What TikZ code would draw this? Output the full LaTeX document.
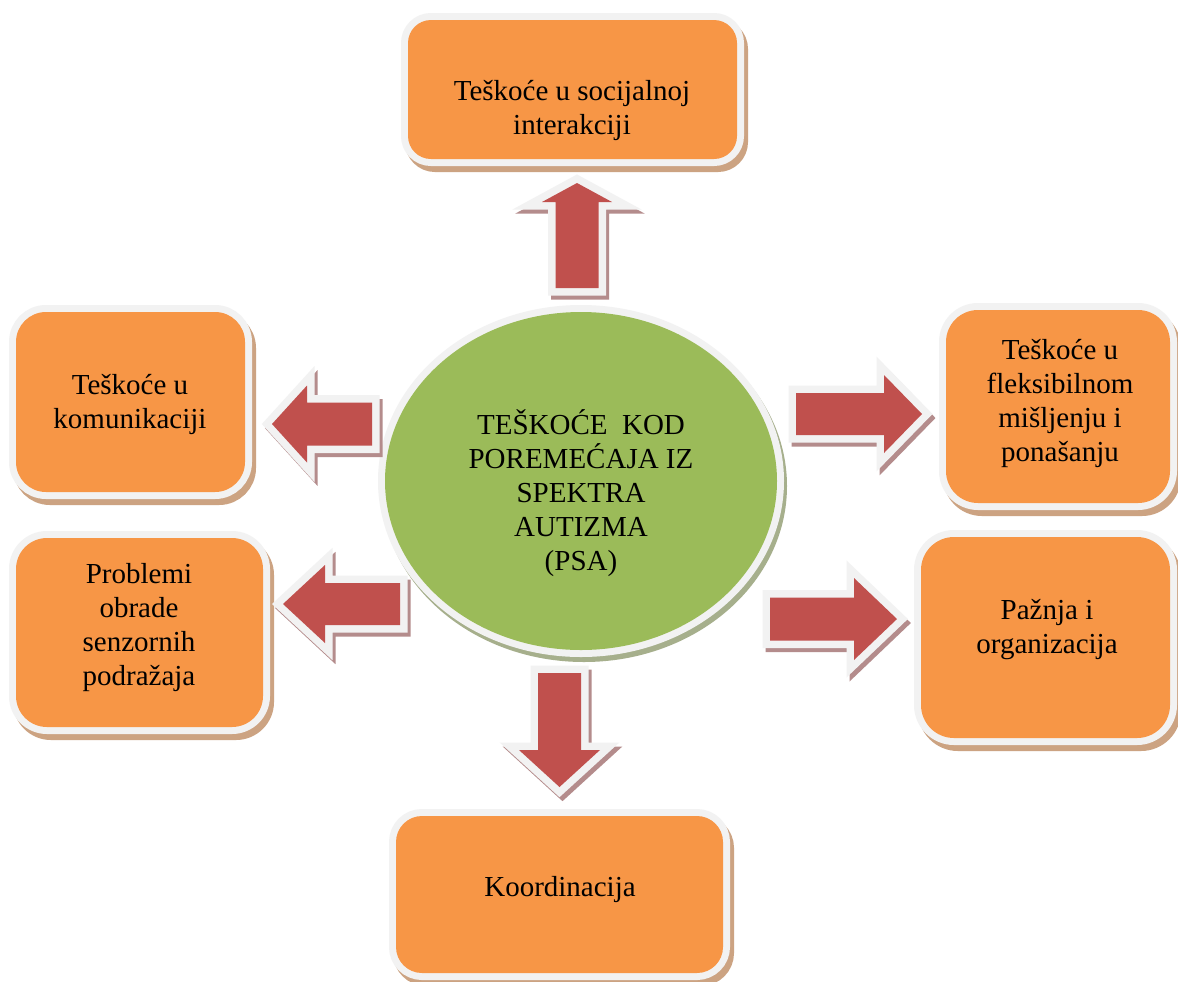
\documentclass[tikz,border=0pt]{standalone}
\usepackage{fontspec}
\setmainfont{Liberation Serif}
\usepackage{tikz}
\usetikzlibrary{shapes.geometric}

\definecolor{boxorange}{RGB}{247,150,70}
\definecolor{boxtan}{RGB}{204,163,130}
\definecolor{arrowred}{RGB}{192,80,77}
\definecolor{arrowtan}{RGB}{180,140,140}
\definecolor{hubgreen}{RGB}{155,187,89}
\definecolor{hubtan}{RGB}{166,175,140}
\definecolor{rimgrey}{RGB}{242,242,242}

\tikzset{
  feature/.style={rectangle, rounded corners=#1, fill=boxorange, inner sep=0pt,
    preaction={draw=boxtan, fill=boxtan, line width=7pt, transform canvas={shift={(2pt,-3pt)}}},
    preaction={draw=rimgrey, line width=7pt}},
  hubnode/.style={ellipse, fill=hubgreen, inner sep=0pt,
    preaction={draw=hubtan, fill=hubtan, line width=7pt, transform canvas={shift={(1.5pt,-2.5pt)}}},
    preaction={draw=rimgrey, line width=7pt}},
  blockarr/.style={fill=arrowred, line join=miter,
    preaction={draw=arrowtan, fill=arrowtan, line width=7.5pt, transform canvas={shift={(1.5pt,-2pt)}}},
    preaction={draw=rimgrey, line width=7.5pt}},
  lbl/.style={align=center, inner sep=0pt, font=\fontsize{14.5}{17}\selectfont}
}

% tail, direction, length, shaft half width, head half width, head length
\newcommand{\blockarrow}[6]{%
  \path[blockarr, shift={(#1)}, rotate=#2]
    (0,-#4) -- ({#3-#6},-#4) -- ({#3-#6},-#5) -- (#3,0)
    -- ({#3-#6},#5) -- ({#3-#6},#4) -- (0,#4) -- cycle;}

\begin{document}
\begin{tikzpicture}[x=0.5pt,y=-0.5pt]
\path[use as bounding box, fill=white] (0,0) rectangle (1178,981);

\node[feature=11.5pt, minimum width=164.5pt, minimum height=69.5pt] (social) at (572.5,89.5) {};
\node[feature=15pt, minimum width=114.5pt, minimum height=90pt] (comm) at (130.5,402) {};
\node[feature=15.5pt, minimum width=123.5pt, minimum height=94.5pt] (sensory) at (139.5,632.5) {};
\node[feature=16pt, minimum width=112pt, minimum height=96.5pt] (flex) at (1058,406.5) {};
\node[feature=16.5pt, minimum width=124.5pt, minimum height=100.5pt] (attention) at (1045.5,637.5) {};
\node[feature=13pt, minimum width=163.5pt, minimum height=78.5pt] (coord) at (559.5,894.5) {};

\node[hubnode, minimum width=196pt, minimum height=169pt] (hub) at (581,481) {};

\coordinate (tailSocial) at (577,288);
\coordinate (tailComm) at (372,424);
\coordinate (tailSensory) at (400,604);
\coordinate (tailFlex) at (796,414);
\coordinate (tailAttention) at (770,619);
\coordinate (tailCoord) at (559.5,673);

\blockarrow{tailSocial}{90}{105}{21.5}{35}{19}
\blockarrow{tailComm}{180}{100}{21.5}{38.5}{35}
\blockarrow{tailSensory}{180}{117}{21}{39}{42}
\blockarrow{tailFlex}{0}{126}{21}{39}{38}
\blockarrow{tailAttention}{0}{127}{21.5}{41}{43}
\blockarrow{tailCoord}{-90}{114}{21.5}{40.5}{37}

\node[lbl] (socialtext) at (572,110) {Teškoće u socijalnoj\\interakciji};
\node[lbl] (commtext) at (130,404) {Teškoće u\\komunikaciji};
\node[lbl] (sensorytext) at (139,628) {Problemi\\obrade\\senzornih\\podražaja};
\node[lbl] (flextext) at (1060,403) {Teškoće u\\fleksibilnom\\mišljenju i\\ponašanju};
\node[lbl] (attentiontext) at (1047,630) {Pažnja i\\organizacija};
\node[lbl] (coordtext) at (560,890) {Koordinacija};
\node[lbl] (hubtext) at (581,493) {TEŠKOĆE\ \ KOD\\POREMEĆAJA IZ\\SPEKTRA\\AUTIZMA\\(PSA)};
\end{tikzpicture}
\end{document}
